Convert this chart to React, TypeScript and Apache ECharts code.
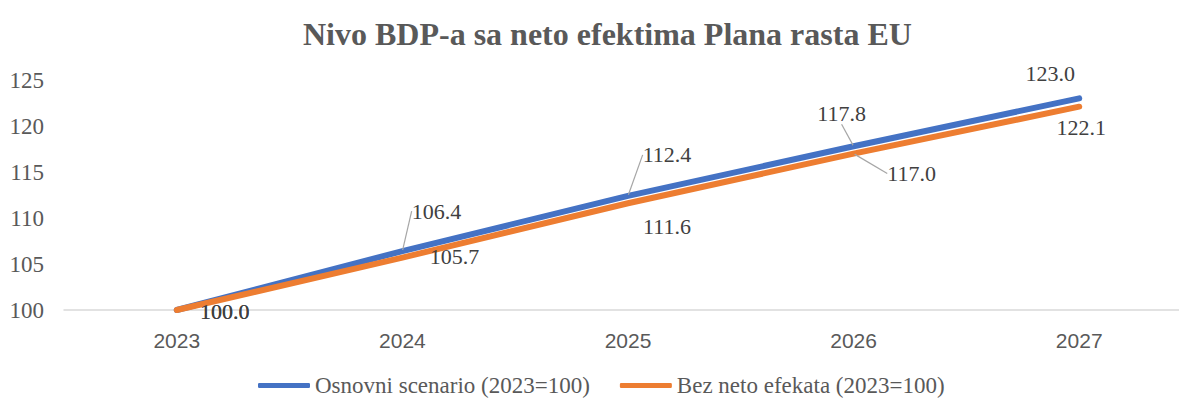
import React, { useEffect, useRef } from "react";
import * as echarts from "echarts";

const categories = ["2023", "2024", "2025", "2026", "2027"];
const osnovniValues = [100.0, 106.4, 112.4, 117.8, 123.0];
const bezNetoValues = [100.0, 105.7, 111.6, 117.0, 122.1];
const yTicks = [100, 105, 110, 115, 120, 125];
const seriesNames = ["Osnovni scenario (2023=100)", "Bez neto efekata (2023=100)"];
const titleText = "Nivo BDP-a sa neto efektima Plana rasta EU";

// label placement (center offset from the point, in px) and leader-line flags
const labelOffsets = [
  [[48, 1], [34, -40], [39, -41], [-12, -33], [-29, -25]],
  [[48, 1], [52, -1], [39, 23], [58, 20], [2, 21]],
];
const leaderShown = [
  [false, true, true, true, false],
  [false, false, false, true, false],
];

const SERIF = "'Liberation Serif', 'DejaVu Serif', serif";
const SANS = "'Liberation Sans', 'DejaVu Sans', sans-serif";

export default function App() {
  const ref = useRef<HTMLDivElement>(null);
  useEffect(() => {
    if (!ref.current) return;
    const chart = echarts.init(ref.current, null, { renderer: "svg" });
    const colors = ["#4472C4", "#ED7D31"];
    const valuesBySeries = [osnovniValues, bezNetoValues];
    const option: any = {
      animation: false,
      title: {
        text: titleText,
        left: 298,
        top: 13,
        textStyle: { fontFamily: SERIF, fontSize: 32, fontWeight: "bold", color: "#595959" },
      },
      legend: {
        bottom: 1,
        left: 253,
        itemWidth: 52,
        itemHeight: 5,
        itemGap: 30,
        icon: "roundRect",
        textStyle: { fontFamily: SERIF, fontSize: 23, color: "#595959" },
        data: seriesNames,
      },
      grid: {
        left: 64,
        top: 80,
        width: 1128,
        height: 230,
        containLabel: false,
        outerBoundsMode: "none",
      },
      xAxis: {
        type: "category",
        data: categories,
        boundaryGap: true,
        axisTick: { show: false },
        axisLine: { show: true, lineStyle: { color: "#d9d9d9", width: 1.5 } },
        axisLabel: { fontFamily: SANS, fontSize: 21, color: "#595959", margin: 20 },
      },
      yAxis: {
        type: "value",
        min: yTicks[0],
        max: yTicks[yTicks.length - 1],
        interval: 5,
        splitLine: { show: false },
        axisLine: { show: false },
        axisTick: { show: false },
        axisLabel: { fontFamily: SERIF, fontSize: 23, color: "#595959", margin: 20 },
      },
      series: valuesBySeries.map((vals, si) => ({
        name: seriesNames[si],
        type: "line",
        data: vals.map((v, di) => ({
          value: v,
          labelLine: { show: leaderShown[si][di] },
        })),
        color: colors[si],
        symbol: "circle",
        symbolSize: 2,
        showSymbol: true,
        lineStyle: { width: 6, color: colors[si], cap: "round", join: "round" },
        itemStyle: { color: colors[si] },
        label: {
          show: true,
          position: "inside",
          formatter: (p: any) => Number(p.value).toFixed(1),
          fontFamily: SERIF,
          fontSize: 22,
          color: "#404040",
        },
        labelLine: { show: true, lineStyle: { color: "#a6a6a6", width: 1.2 } },
        labelLayout: (params: any) => {
          const off = labelOffsets[si][params.dataIndex];
          return { dx: off[0], dy: off[1] };
        },
        emphasis: { disabled: true },
        z: si + 2,
      })),
    };
    chart.setOption(option);
    return () => chart.dispose();
  }, []);
  return (
    <div
      ref={ref}
      style={{ position: "fixed", left: 0, top: 0, width: 1179, height: 403, background: "#fff" }}
    />
  );
}
